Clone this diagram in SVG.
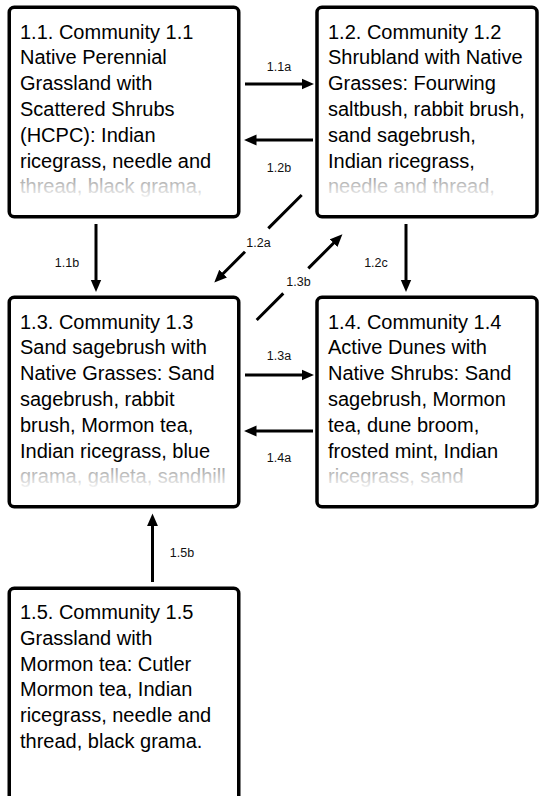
<svg xmlns="http://www.w3.org/2000/svg" width="544" height="796" viewBox="0 0 544 796">
<style>
.box{fill:#fff;stroke:#000;stroke-width:3.5}
.t{font-family:"Liberation Sans",Arial,sans-serif;font-size:20px;fill:#000}
.f{fill:url(#fade)}
.lbl{font-family:"Liberation Sans",Arial,sans-serif;font-size:12.5px;fill:#111;text-anchor:middle}
.c{fill:none;stroke:#000;stroke-width:3}
</style>
<defs>
<linearGradient id="fade" x1="0" y1="0" x2="0" y2="1">
<stop offset="0" stop-color="#9a9a9a"/>
<stop offset="1" stop-color="#f2f2f2"/>
</linearGradient>
<marker id="ah" markerUnits="userSpaceOnUse" markerWidth="13" markerHeight="12" refX="6" refY="5" orient="auto" viewBox="0 0 12 10.5">
<path d="M0,0 L11.5,5 L0,10 z" fill="#000"/>
</marker>
</defs>
<rect width="544" height="796" fill="#fff"/>
<g id="n11">
<rect class="box" x="9.25" y="7.25" width="229.5" height="209.5" rx="5"/>
<text class="t" x="20"><tspan x="20" y="38.5">1.1. Community 1.1</tspan><tspan x="20" y="64.3">Native Perennial</tspan><tspan x="20" y="90.1">Grassland with</tspan><tspan x="20" y="115.9">Scattered Shrubs</tspan><tspan x="20" y="141.7">(HCPC): Indian</tspan><tspan x="20" y="167.5">ricegrass, needle and</tspan></text>
<text class="t f" x="20" y="193.3">thread, black grama,</text>
</g>
<g id="n12">
<rect class="box" x="317" y="7.25" width="220" height="209.5" rx="5"/>
<text class="t"><tspan x="328" y="38.5">1.2. Community 1.2</tspan><tspan x="328" y="64.3">Shrubland with Native</tspan><tspan x="328" y="90.1">Grasses: Fourwing</tspan><tspan x="328" y="115.9">saltbush, rabbit brush,</tspan><tspan x="328" y="141.7">sand sagebrush,</tspan><tspan x="328" y="167.5">Indian ricegrass,</tspan></text>
<text class="t f" x="328" y="193.3">needle and thread,</text>
</g>
<g id="n13">
<rect class="box" x="9.25" y="297.25" width="229.5" height="209.5" rx="5"/>
<text class="t"><tspan x="20" y="328.5">1.3. Community 1.3</tspan><tspan x="20" y="354.3">Sand sagebrush with</tspan><tspan x="20" y="380.1">Native Grasses: Sand</tspan><tspan x="20" y="405.9">sagebrush, rabbit</tspan><tspan x="20" y="431.7">brush, Mormon tea,</tspan><tspan x="20" y="457.5">Indian ricegrass, blue</tspan></text>
<text class="t f" x="20" y="483.3">grama, galleta, sandhill</text>
</g>
<g id="n14">
<rect class="box" x="317" y="297.25" width="220" height="209.5" rx="5"/>
<text class="t"><tspan x="328" y="328.5">1.4. Community 1.4</tspan><tspan x="328" y="354.3">Active Dunes with</tspan><tspan x="328" y="380.1">Native Shrubs: Sand</tspan><tspan x="328" y="405.9">sagebrush, Mormon</tspan><tspan x="328" y="431.7">tea, dune broom,</tspan><tspan x="328" y="457.5">frosted mint, Indian</tspan></text>
<text class="t f" x="328" y="483.3">ricegrass, sand</text>
</g>
<g id="n15">
<rect class="box" x="9.25" y="588.25" width="229.5" height="260" rx="5"/>
<text class="t"><tspan x="20" y="619">1.5. Community 1.5</tspan><tspan x="20" y="644.8">Grassland with</tspan><tspan x="20" y="670.6">Mormon tea: Cutler</tspan><tspan x="20" y="696.4">Mormon tea, Indian</tspan><tspan x="20" y="722.2">ricegrass, needle and</tspan><tspan x="20" y="748">thread, black grama.</tspan></text>
</g>
<g id="connectors">
<path class="c" d="M245,84 H308" marker-end="url(#ah)"/>
<path class="c" d="M313,140 H250" marker-end="url(#ah)"/>
<path class="c" d="M245,375 H308" marker-end="url(#ah)"/>
<path class="c" d="M313,431 H250" marker-end="url(#ah)"/>
<path class="c" d="M96,224 V286" marker-end="url(#ah)"/>
<path class="c" d="M406,224 V286" marker-end="url(#ah)"/>
<path class="c" d="M152.5,582 V519.5" marker-end="url(#ah)"/>
<path class="c" d="M301.7,195 L268.3,228.4 M245,251.7 L218.5,278.2" marker-end="url(#ah)"/>
<path class="c" d="M256.7,320 L283.3,293.4 M308.3,268.4 L338.2,238.5" marker-end="url(#ah)"/>
<text class="lbl" x="279" y="70.5">1.1a</text>
<text class="lbl" x="279" y="171.5">1.2b</text>
<text class="lbl" x="67" y="267">1.1b</text>
<text class="lbl" x="376" y="267">1.2c</text>
<text class="lbl" x="258.5" y="247">1.2a</text>
<text class="lbl" x="298.5" y="286">1.3b</text>
<text class="lbl" x="279" y="360">1.3a</text>
<text class="lbl" x="279" y="461.5">1.4a</text>
<text class="lbl" x="182" y="557">1.5b</text>
</g>
</svg>
